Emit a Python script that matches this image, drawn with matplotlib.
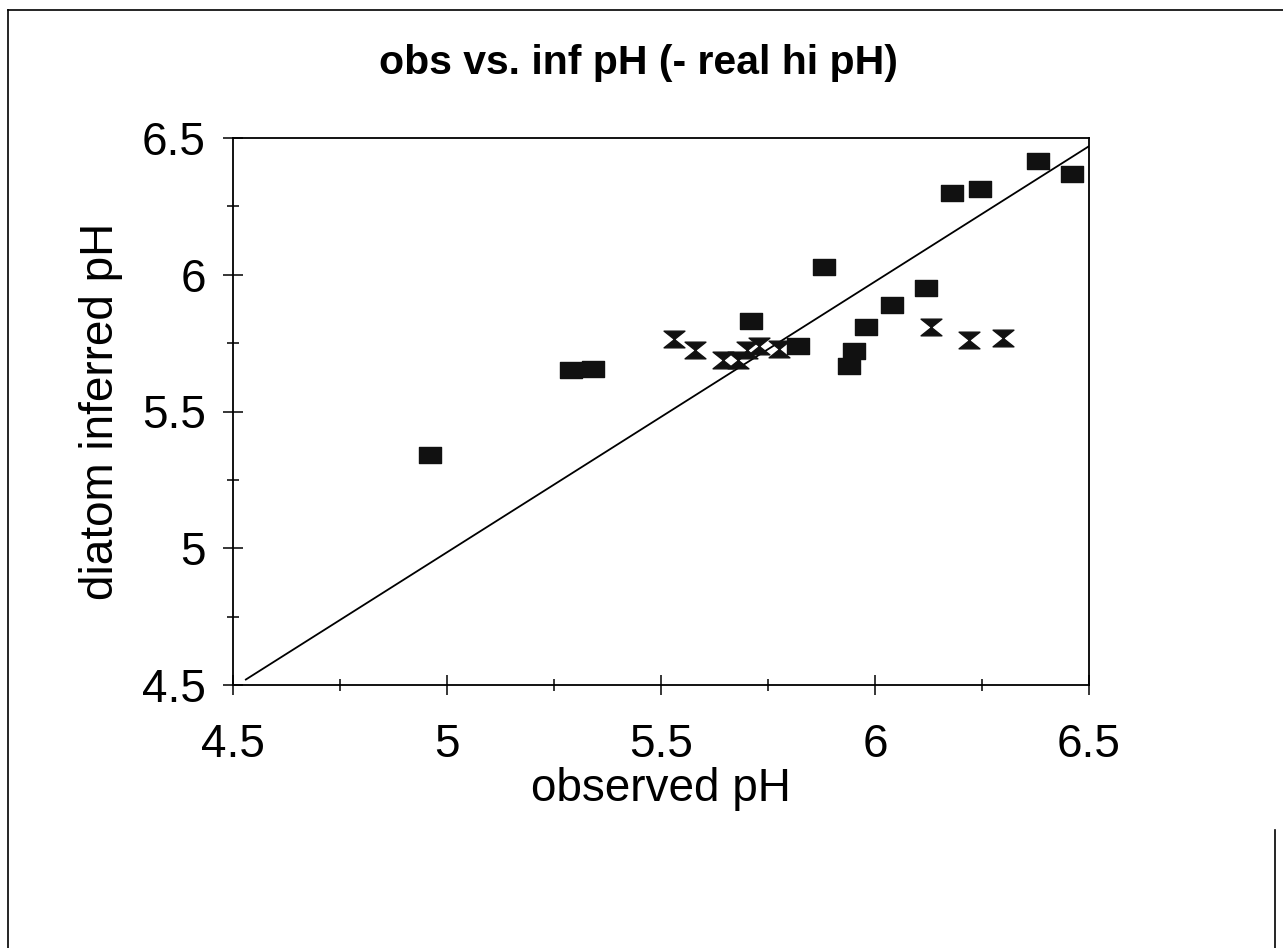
import matplotlib
matplotlib.use('Agg')
import matplotlib.pyplot as plt
from matplotlib.path import Path
from matplotlib.lines import Line2D

plt.rcParams['font.family'] = ['Liberation Sans', 'DejaVu Sans']

# datos: cuadrados (muestras)
obsX = [4.96, 5.29, 5.34, 5.71, 5.82, 5.88, 5.94, 5.95, 5.98, 6.04, 6.12, 6.18, 6.245, 6.38, 6.46]
infY = [5.34, 5.65, 5.655, 5.83, 5.74, 6.03, 5.665, 5.72, 5.81, 5.89, 5.95, 6.30, 6.315, 6.415, 6.37]

# datos: relojes de arena
obsX2 = [5.53, 5.58, 5.645, 5.68, 5.70, 5.73, 5.775, 6.13, 6.22, 6.30]
infY2 = [5.765, 5.725, 5.69, 5.69, 5.725, 5.74, 5.73, 5.81, 5.76, 5.77]

# recta
lineaX = [4.53, 6.5]
lineaY = [4.52, 6.47]

titulo = 'obs vs. inf pH (- real hi pH)'
ticks = [4.5, 5, 5.5, 6, 6.5]
tickLabels = ['4.5', '5', '5.5', '6', '6.5']

# marcadores
cuadrado = Path([(-1, -0.7), (1, -0.7), (1, 0.7), (-1, 0.7), (-1, -0.7)],
                [Path.MOVETO, Path.LINETO, Path.LINETO, Path.LINETO, Path.CLOSEPOLY])
reloj = Path([(-1, 0.8), (1, 0.8), (0, 0), (1, -0.8), (-1, -0.8), (0, 0), (-1, 0.8)],
             [Path.MOVETO, Path.LINETO, Path.LINETO, Path.LINETO, Path.LINETO, Path.LINETO, Path.CLOSEPOLY])

fig = plt.figure(figsize=(12.83, 9.48), dpi=100)
ax = fig.add_axes([233 / 1283, 1 - 685 / 948, (1089 - 233) / 1283, (685 - 138) / 948])

ax.plot(lineaX, lineaY, color='black', linewidth=1.3)
ax.plot(obsX, infY, linestyle='none', marker=cuadrado, markersize=15.5, color='#111111')
ax.plot(obsX2, infY2, linestyle='none', marker=reloj, markersize=15, color='#111111')

ax.set_xlim(4.5, 6.5)
ax.set_ylim(4.5, 6.5)
ax.set_xticks(ticks)
ax.set_xticklabels(tickLabels)
ax.set_yticks(ticks)
ax.set_yticklabels(tickLabels)
ax.set_xticks([4.75, 5.25, 5.75, 6.25], minor=True)
ax.set_yticks([4.75, 5.25, 5.75, 6.25], minor=True)
ax.tick_params(which='major', direction='inout', length=15, width=1.1, labelsize=33)
ax.tick_params(which='minor', direction='inout', length=8, width=1.1)
ax.tick_params(axis='x', pad=20)
ax.tick_params(axis='y', pad=12)
for s in ax.spines.values():
    s.set_linewidth(1.3)

ax.set_xlabel('observed pH', fontsize=33, labelpad=0)
ax.set_ylabel('diatom inferred pH', fontsize=33, labelpad=14)
fig.text(638 / 1283, 1 - 63 / 948, titulo, fontsize=29.5, fontweight='bold', ha='center', va='center')

# borde de la pagina escaneada
fig.add_artist(Line2D([8 / 1283, 8 / 1283], [0, 1 - 10 / 948], color='black', linewidth=1.2, transform=fig.transFigure))
fig.add_artist(Line2D([8 / 1283, 1], [1 - 10 / 948, 1 - 10 / 948], color='black', linewidth=1.2, transform=fig.transFigure))
fig.add_artist(Line2D([1275 / 1283, 1275 / 1283], [0, 1 - 830 / 948], color='black', linewidth=1.2, transform=fig.transFigure))

fig.savefig('out.png', dpi=100)
